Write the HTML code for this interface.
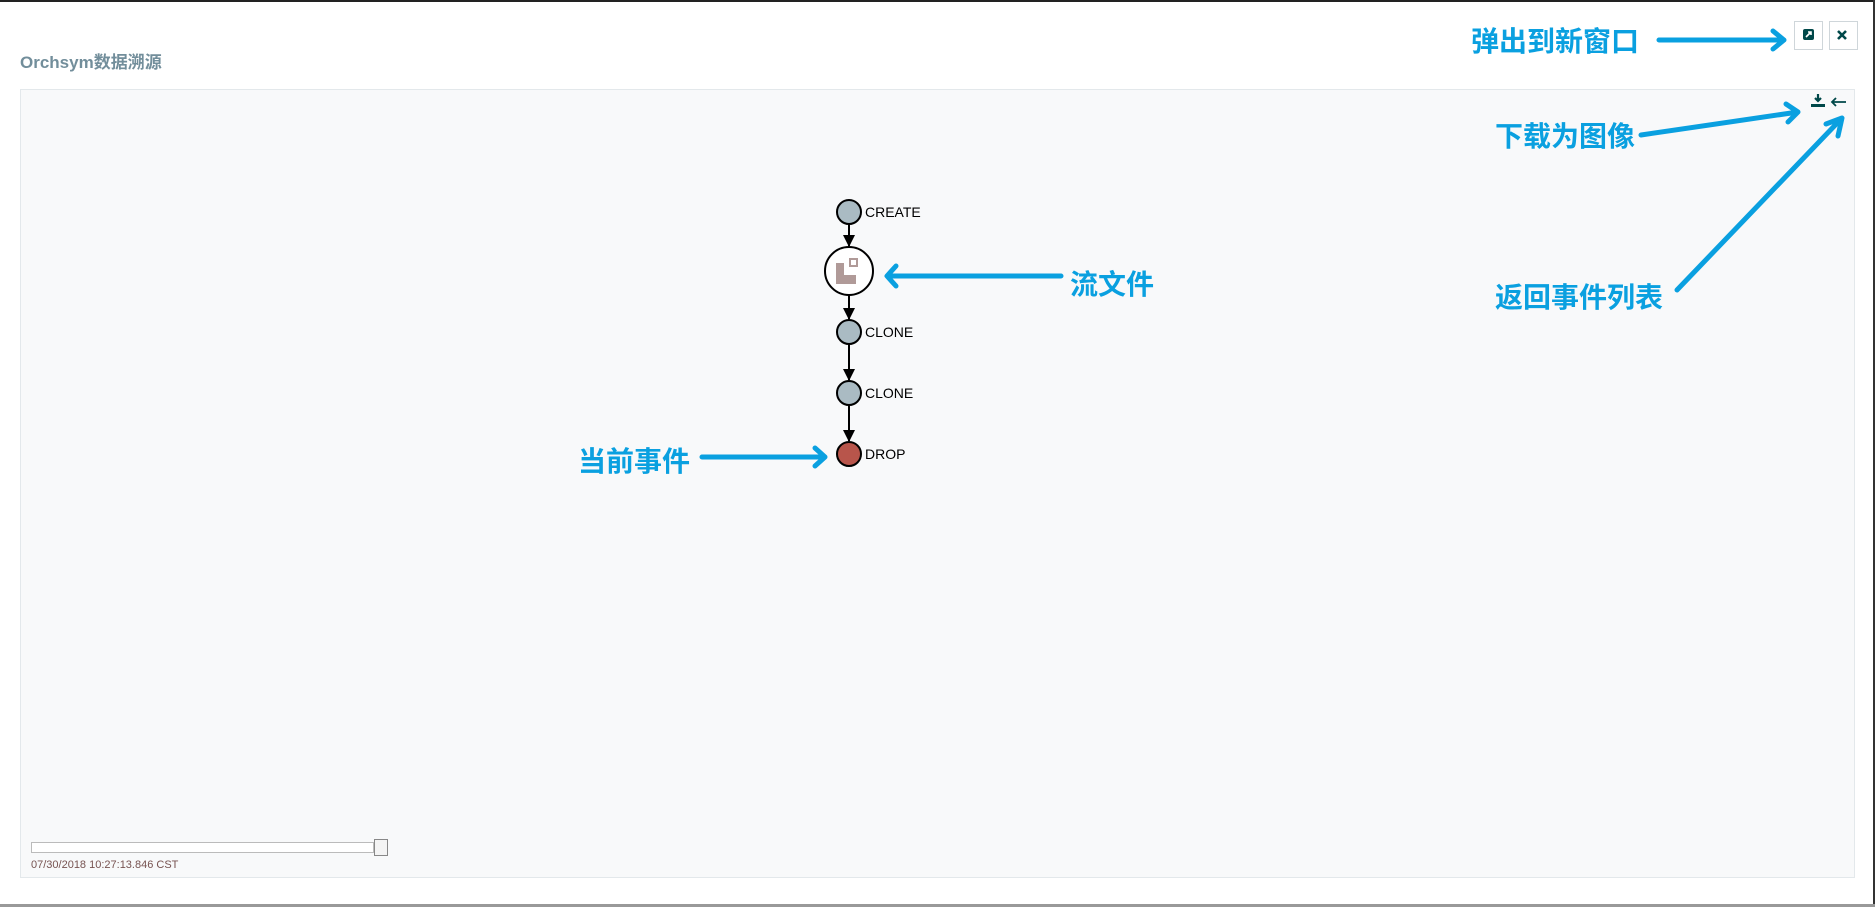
<!DOCTYPE html>
<html><head><meta charset="utf-8"><style>
html,body{margin:0;padding:0;width:1875px;height:907px;overflow:hidden;background:#fff;font-family:"Liberation Sans","Noto Sans CJK SC",sans-serif}
.top{position:absolute;left:0;top:0;width:1875px;height:2px;background:#222}
.btm{position:absolute;left:0;top:904px;width:1875px;height:3px;background:#999}
.rt{position:absolute;left:1873px;top:0;width:2px;height:907px;background:#333}
.title{position:absolute;left:20px;top:48px;font-size:17px;font-weight:bold;color:#728e9b}
.panel{position:absolute;left:20px;top:89px;width:1833px;height:787px;background:#f8f9fa;border:1px solid #e3e8eb}
.btn{position:absolute;top:21px;width:27px;height:27px;border:1px solid #cfd6da;background:#fff}
.cn{position:absolute;font-size:28px;font-weight:bold;color:#0aa0e0;font-family:"Noto Sans CJK SC",sans-serif;line-height:1}
.lbl{position:absolute;font-size:14px;color:#000;line-height:1}
</style></head><body>
<div class="top"></div><div class="rt"></div><div class="btm"></div>
<div class="title">Orchsym数据溯源</div>
<div class="panel"></div>
<div class="btn" style="left:1794px"></div>
<div class="btn" style="left:1829px"></div>
<div style="position:absolute;left:31px;top:842px;width:343px;height:11px;border:1px solid #bbb;background:#fff;box-sizing:border-box"></div>
<div style="position:absolute;left:374px;top:839px;width:14px;height:17px;border:1px solid #888;background:#f4f4f4;box-sizing:border-box"></div>
<div style="position:absolute;left:31px;top:859px;font-size:11px;color:#775351">07/30/2018 10:27:13.846 CST</div>
<svg style="position:absolute;left:0;top:0" width="1875" height="907">
<defs><marker id="ah" markerWidth="12" markerHeight="12" refX="11" refY="6" orient="auto" markerUnits="userSpaceOnUse"><path d="M0,0 L12,6 L0,12 z" fill="#000"/></marker></defs>
<g stroke="#000" stroke-width="2" marker-end="url(#ah)">
<line x1="849" y1="224" x2="849" y2="246"/>
<line x1="849" y1="295" x2="849" y2="319"/>
<line x1="849" y1="344" x2="849" y2="380"/>
<line x1="849" y1="405" x2="849" y2="441"/>
</g>
<g stroke="#000" stroke-width="2">
<circle cx="849" cy="212" r="12" fill="#aabbc3"/>
<circle cx="849" cy="271" r="24" fill="#fff"/>
<circle cx="849" cy="332" r="12" fill="#aabbc3"/>
<circle cx="849" cy="393" r="12" fill="#aabbc3"/>
<circle cx="849" cy="454" r="12" fill="#b8554b"/>
</g>
<path d="M836,263 h8 v12 h12 v9 h-20z" fill="#b09a98"/>
<rect x="850" y="259" width="7" height="7" fill="none" stroke="#b09a98" stroke-width="2"/>
<rect x="1803" y="29" width="11" height="11" rx="2" fill="#004849"/>
<path d="M1806,37 l5,-5 M1808,32 h3 v3" stroke="#fff" stroke-width="1.6" fill="none"/>
<path d="M1838,31 l8,8 M1846,31 l-8,8" stroke="#004849" stroke-width="2.6"/>
<path d="M1818,94 v7 M1815,98 l3,3 l3,-3" stroke="#004849" stroke-width="2.2" fill="none"/>
<rect x="1811" y="104" width="14" height="3" fill="#004849"/>
<path d="M1832,102 h14 M1836,98 l-4,4 l4,4" stroke="#004849" stroke-width="1.8" fill="none"/>
<g stroke="#0aa0e0" stroke-width="5" fill="none" stroke-linecap="round" stroke-linejoin="round">
<path d="M1659,40 H1784 M1773,31 L1784,40 L1773,49"/>
<path d="M1641,135 L1798,112 M1786,104 L1798,112 L1788,122"/>
<path d="M1677,290 L1842,118 M1826,124 L1842,118 L1838,136"/>
<path d="M1061,276 H887 M896,266 L887,276 L896,286"/>
<path d="M702,457 H825 M815,448 L825,457 L815,466"/>
</g>
</svg>
<div class="lbl" style="left:865px;top:205px">CREATE</div>
<div class="lbl" style="left:865px;top:325px">CLONE</div>
<div class="lbl" style="left:865px;top:386px">CLONE</div>
<div class="lbl" style="left:865px;top:447px">DROP</div>
<div class="cn" style="left:1471px;top:26px">弹出到新窗口</div>
<div class="cn" style="left:1495px;top:121px">下载为图像</div>
<div class="cn" style="left:1495px;top:282px">返回事件列表</div>
<div class="cn" style="left:1070px;top:269px">流文件</div>
<div class="cn" style="left:578px;top:446px">当前事件</div>
</body></html>
